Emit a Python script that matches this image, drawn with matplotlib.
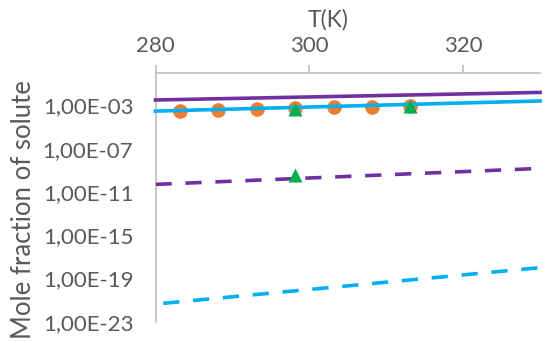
import matplotlib
matplotlib.use("Agg")
import matplotlib.pyplot as plt
from matplotlib.ticker import FixedLocator, FixedFormatter

plt.rcParams['font.family'] = ['Lato', 'DejaVu Sans']

# experimental points
T_exp = [283.15, 288.15, 293.15, 298.15, 303.15, 308.15, 313.15]
x_exp = [3.0e-4, 3.8e-4, 4.7e-4, 5.4e-4, 6.8e-4, 7.6e-4, 8.9e-4]

T_tri = [298.15, 313.15, 298.15]
x_tri = [4.7e-4, 9.5e-4, 3.6e-10]

# model lines (straight on log scale), read at the ends
T_line = [280, 330]
purple_solid = [3.2e-3, 1.6e-2]
blue_solid = [3.0e-4, 2.6e-3]
purple_dash = [5.0e-11, 1.5e-9]
T_bdash = [281, 330]
blue_dash = [5.0e-22, 1.0e-18]

yticks = [1e-23, 1e-19, 1e-15, 1e-11, 1e-7, 1e-3]
ylabels = ['1,00E-23', '1,00E-19', '1,00E-15', '1,00E-11', '1,00E-07', '1,00E-03']
xticks = [280, 300, 320]

grey = '#595959'
axgrey = '#BFBFBF'

fig = plt.figure(figsize=(5.43, 3.41), dpi=100)
ax = fig.add_axes([155.5/543, 1-321.7/341, (540-155.5)/543, (321.7-73)/341])

ax.plot(T_exp, x_exp, 'o', color='#ED7D31', ms=10.5, mec='none', zorder=2)
ax.plot(T_line, purple_solid, '-', color='#7030A0', lw=2.6, zorder=3, clip_on=False)
ax.plot(T_line, blue_solid, '-', color='#00B0F0', lw=2.6, zorder=3, clip_on=False)
ax.plot(T_line, purple_dash, '--', color='#7030A0', lw=2.6, dashes=(4.5, 3.8), zorder=3)
ax.plot(T_bdash, blue_dash, '--', color='#00B0F0', lw=2.6, dashes=(4.5, 3.8), zorder=3)
ax.plot(T_tri, x_tri, '^', color='#00B050', ms=10, mec='none', zorder=4)

ax.set_yscale('log')
ax.set_ylim(1e-23, 1)
ax.set_xlim(280, 330)

ax.yaxis.set_major_locator(FixedLocator(yticks))
ax.yaxis.set_major_formatter(FixedFormatter(ylabels))
ax.yaxis.set_minor_locator(FixedLocator([]))
ax.set_xticks(xticks)
ax.xaxis.tick_top()

# axis titles (Excel puts them off-centre here)
fig.text(328/543, 1-20/341, 'T(K)', fontsize=16.5, color=grey,
         ha='center', va='center')
fig.text(24/543, 1-210/341, 'Mole fraction of solute', fontsize=18.5,
         color=grey, rotation=90, ha='center', va='center')

ax.tick_params(axis='x', direction='out', length=6, width=1.2, color=axgrey,
               labelsize=16, labelcolor=grey, pad=6)
ax.tick_params(axis='y', length=0, labelsize=16, labelcolor=grey, pad=16)

for s in ['right', 'bottom']:
    ax.spines[s].set_visible(False)
for s in ['top', 'left']:
    ax.spines[s].set_color(axgrey)
    ax.spines[s].set_linewidth(1.2)

fig.savefig('out.png', dpi=100)
